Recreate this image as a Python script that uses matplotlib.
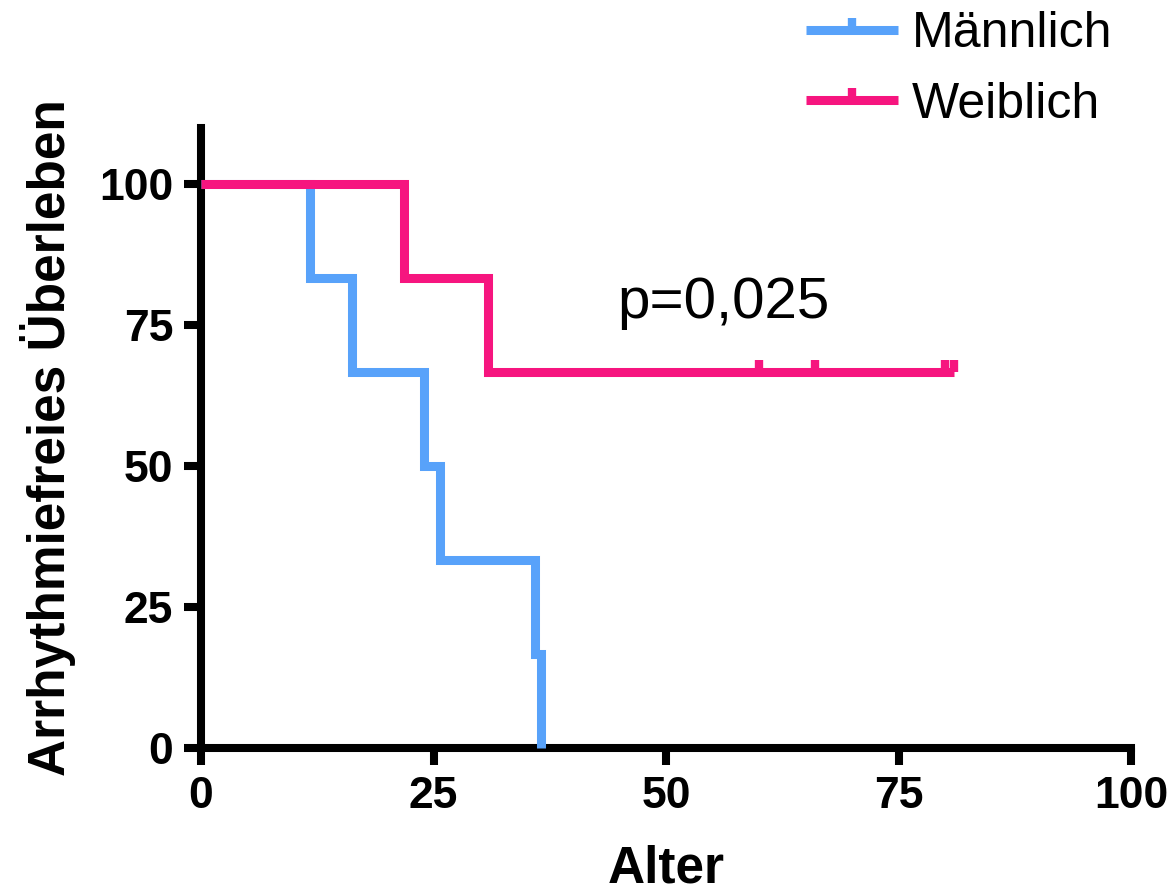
import matplotlib
matplotlib.use("Agg")
import matplotlib.pyplot as plt
from matplotlib.lines import Line2D

# Kaplan-Meier step data (age in years, survival in %)
male_age = [0, 11.7, 16.2, 24.0, 25.7, 35.9, 36.6]
male_surv = [100, 83.33, 66.67, 50.0, 33.33, 16.67, 0]

female_age = [0, 21.8, 30.9, 81.0]
female_surv = [100, 83.33, 66.67, 66.67]
female_censor_age = [60, 66, 80, 81]
female_censor_surv = [66.67, 66.67, 66.67, 66.67]

x_ticks = [0, 25, 50, 75, 100]
y_ticks = [0, 25, 50, 75, 100]
series_labels = ["Männlich", "Weiblich"]

BLUE = "#58A2FA"
PINK = "#F6157F"

plt.rcParams["font.family"] = ["Liberation Sans", "DejaVu Sans"]

fig = plt.figure(figsize=(11.73, 8.92), dpi=100)
ax = fig.add_axes([0.1714, 0.1614, 0.7928, 0.6955])

lw = 6.5
ax.plot(male_age, male_surv, drawstyle="steps-post", color=BLUE, lw=lw,
        solid_joinstyle="miter", solid_capstyle="butt", zorder=3, clip_on=False)
ax.plot(female_age, female_surv, drawstyle="steps-post", color=PINK, lw=lw,
        solid_joinstyle="miter", solid_capstyle="butt", zorder=3, clip_on=False)
ax.plot(female_censor_age, female_censor_surv, linestyle="none", marker=2,
        markersize=9, markeredgewidth=6, color=PINK, zorder=3, clip_on=False)

ax.set_xlim(0, 100)
ax.set_ylim(0, 110)
ax.set_xticks(x_ticks)
ax.set_yticks(y_ticks)
ax.set_xticklabels([str(v) for v in x_ticks])
ax.set_yticklabels([str(v) for v in y_ticks])

for side in ("top", "right"):
    ax.spines[side].set_visible(False)
for side in ("left", "bottom"):
    ax.spines[side].set_linewidth(5.8)
    ax.spines[side].set_capstyle("projecting")

ax.tick_params(axis="both", direction="out", length=12, width=5.8,
               labelsize=32, pad=8)
for lab in ax.get_xticklabels() + ax.get_yticklabels():
    lab.set_fontweight("bold")

ax.set_ylabel("Arrhythmiefreies Überleben", fontsize=37, fontweight="bold")
ax.yaxis.set_label_coords(-0.135, 0.5)
ax.set_xlabel("Alter", fontsize=37, fontweight="bold")
ax.xaxis.set_label_coords(0.5, -0.156)

ax.text(44.8, 76.2, "p=0,025", fontsize=42, ha="left", va="baseline")

handles = [
    Line2D([], [], color=BLUE, lw=lw, marker=2, markersize=9,
           markeredgewidth=6, solid_capstyle="butt"),
    Line2D([], [], color=PINK, lw=lw, marker=2, markersize=9,
           markeredgewidth=6, solid_capstyle="butt"),
]
fig.legend(handles, series_labels, loc="upper left",
           bbox_to_anchor=(0.649, 1.038), frameon=False, fontsize=36,
           handlelength=1.84, handletextpad=0.28, labelspacing=0.49,
           numpoints=1)

fig.savefig("out.png", dpi=100)
